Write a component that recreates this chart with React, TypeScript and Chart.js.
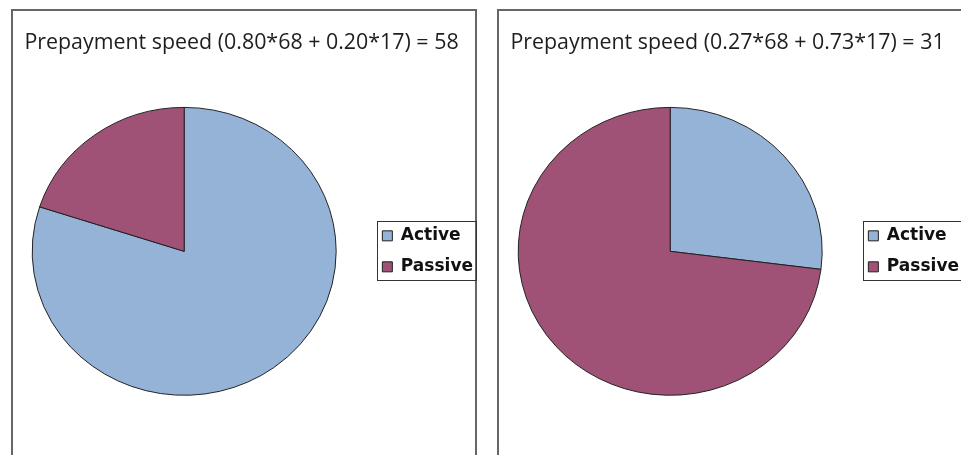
import React, { useEffect, useRef } from "react";
import { Chart, registerables } from "chart.js";

Chart.register(...registerables);

const categories = ["Active", "Passive"];
const leftShares = [0.8, 0.2];
const rightShares = [0.27, 0.73];
const leftTitle = "Prepayment speed (0.80*68 + 0.20*17) = 58";
const rightTitle = "Prepayment speed (0.27*68 + 0.73*17) = 31";
const sliceColors = ["#95B3D7", "#A05276"];

const squashPlugin = {
  id: "squash",
  beforeDatasetsDraw(chart: any) {
    const ctx = chart.ctx;
    const a = chart.chartArea;
    const cy = (a.top + a.bottom) / 2;
    ctx.save();
    ctx.translate(0, cy);
    ctx.scale(1, 0.947);
    ctx.translate(0, -cy);
  },
  afterDatasetsDraw(chart: any) {
    chart.ctx.restore();
  },
};

const legendFramePlugin = {
  id: "legendFrame",
  afterDraw(chart: any) {
    const lg = chart.legend;
    if (!lg || !lg.legendHitBoxes || !lg.legendHitBoxes.length) return;
    const hb = lg.legendHitBoxes;
    const last = hb[hb.length - 1];
    const x0 = Math.round(hb[0].left - 5);
    const x1 = Math.round(lg.right - 7);
    const y0 = Math.round(hb[0].top - 6);
    const y1 = Math.round(last.top + last.height + 5);
    const ctx = chart.ctx;
    ctx.save();
    ctx.strokeStyle = "#333333";
    ctx.lineWidth = 1;
    ctx.strokeRect(x0 + 0.5, y0 + 0.5, x1 - x0, y1 - y0);
    ctx.restore();
  },
};

function PiePanel({ left, title, shares }: { left: number; title: string; shares: number[] }) {
  const ref = useRef<HTMLCanvasElement | null>(null);
  useEffect(() => {
    if (!ref.current) return;
    const chart = new Chart(ref.current, {
      type: "pie",
      data: {
        labels: categories,
        datasets: [
          {
            data: shares,
            backgroundColor: sliceColors,
            borderColor: "#1f1f1f",
            borderWidth: 1,
            radius: 152,
          } as any,
        ],
      },
      options: {
        responsive: false,
        maintainAspectRatio: false,
        animation: false,
        layout: { padding: { left: 0, right: 0, top: 0, bottom: 51 } },
        plugins: {
          title: {
            display: true,
            text: title,
            color: "#1e1e1e",
            font: { family: "'Open Sans'", size: 21.4, weight: "normal" },
            padding: { top: 30, bottom: 38 },
          },
          legend: {
            display: true,
            position: "right",
            fullSize: false,
            labels: {
              boxWidth: 10,
              boxHeight: 10,
              padding: 14,
              color: "#111111",
              font: { family: "'DejaVu Sans'", size: 17, weight: "bold" },
            },
          },
          tooltip: { enabled: false },
        },
      },
      plugins: [squashPlugin, legendFramePlugin],
    });
    return () => chart.destroy();
  }, [title, shares]);

  return (
    <>
      <div
        style={{
          position: "fixed",
          left: left + 11,
          top: 9,
          width: 466,
          height: 470,
          boxSizing: "border-box",
          border: "2px solid #666666",
          background: "#ffffff",
        }}
      />
      <canvas
        ref={ref}
        width={483}
        height={460}
        style={{ position: "fixed", left: left, top: 0, width: 483, height: 460 }}
      />
    </>
  );
}

export default function App() {
  return (
    <div>
      <PiePanel left={0} title={leftTitle} shares={leftShares} />
      <PiePanel left={486} title={rightTitle} shares={rightShares} />
    </div>
  );
}
